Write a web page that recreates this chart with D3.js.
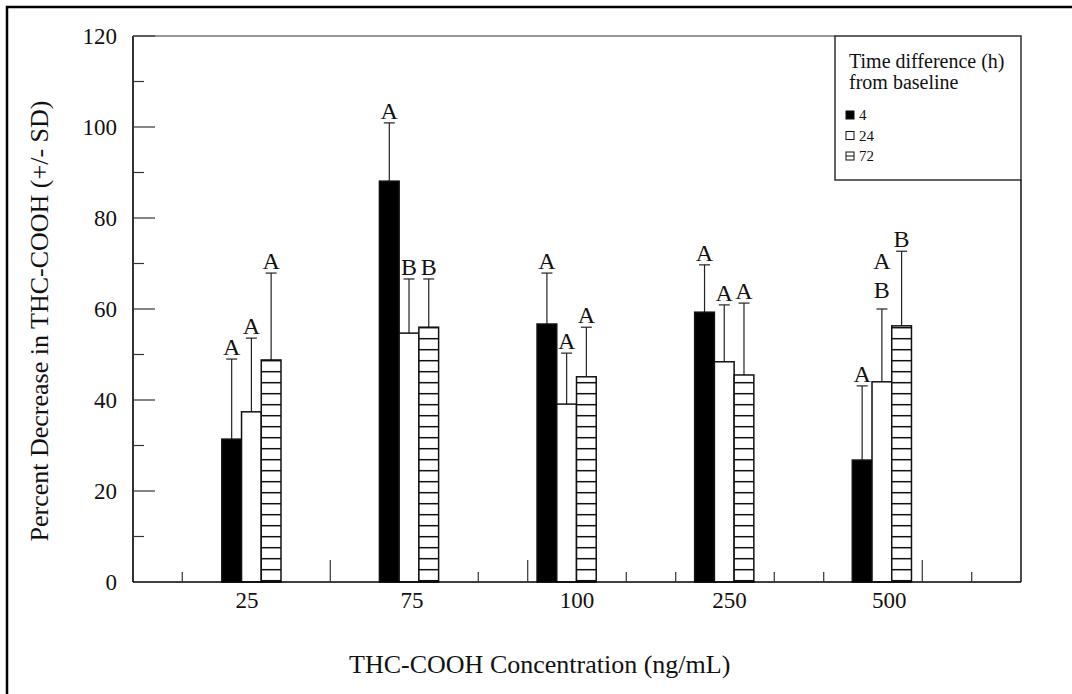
<!DOCTYPE html>
<html lang="en">
<head>
    <meta charset="UTF-8">
    <title>THC-COOH decrease</title>
    <script src="https://d3js.org/d3.v7.js"></script>
    <style>
        body { margin: 0; background: #fff; }
        svg { display: block; }
        text { font-family: "Liberation Serif", "Times New Roman", serif; fill: #111; }
    </style>
</head>
<body>
    <svg width="1072" height="694"></svg>
    <script>
        // data
        const concentrations = ["25", "75", "100", "250", "500"];
        const hours = ["4", "24", "72"];
        const meanH4 = [31.4, 88.1, 56.7, 59.3, 26.8];
        const meanH24 = [37.4, 54.7, 39.1, 48.4, 44.0];
        const meanH72 = [48.8, 56.0, 45.1, 45.5, 56.3];
        const sdH4 = [17.6, 12.8, 11.2, 10.4, 16.3];
        const sdH24 = [16.2, 11.9, 11.2, 12.5, 16.0];
        const sdH72 = [19.1, 10.6, 10.9, 15.8, 16.4];
        const lettersH4 = [["A"], ["A"], ["A"], ["A"], ["A"]];
        const lettersH24 = [["A"], ["B"], ["A"], ["A"], ["A", "B"]];
        const lettersH72 = [["A"], ["B"], ["A"], ["A"], ["B"]];
        const yTicks = [0, 20, 40, 60, 80, 100, 120];
        const yMinorTicks = [10, 30, 50, 70, 90, 110];
        // x axis runs 0..6, groups and the odd tick marks sit in those units
        const groupPos = [0.80, 1.865, 2.93, 3.995, 5.06];
        const labelPos = [0.77, 1.885, 3.0, 4.03, 5.11];
        const xTallTicks = [1.333, 2.667, 5.333];
        const xShortTicks = [0.333, 2.333, 3.333, 3.667, 4.333, 4.667, 5.667];

        const margins = { top: 36, bottom: 112, left: 133, right: 51 };
        const width = 1072, height = 694;
        const svg = d3.select("svg");

        const x = d3.scaleLinear().domain([0, 6]).range([margins.left, width - margins.right]);
        const y = d3.scaleLinear().domain([0, 120]).range([height - margins.bottom, margins.top]);
        const barW = x(0.1333) - x(0);

        const defs = svg.append("defs");
        const pat = defs.append("pattern")
            .attr("id", "hatch")
            .attr("patternUnits", "userSpaceOnUse")
            .attr("width", 8).attr("height", 11);
        pat.append("rect").attr("width", 8).attr("height", 11).attr("fill", "#fff");
        pat.append("line").attr("x1", 0).attr("x2", 8).attr("y1", 8.7).attr("y2", 8.7)
            .attr("stroke", "#111").attr("stroke-width", 1.5);

        // outer frame of the figure
        svg.append("rect")
            .attr("x", 7).attr("y", 7).attr("width", 1100).attr("height", 720)
            .attr("fill", "none").attr("stroke", "#000").attr("stroke-width", 2.5);

        const series = [
            { key: "4", mean: meanH4, sd: sdH4, letters: lettersH4, fill: "#000" },
            { key: "24", mean: meanH24, sd: sdH24, letters: lettersH24, fill: "#fff" },
            { key: "72", mean: meanH72, sd: sdH72, letters: lettersH72, fill: "url(#hatch)" }
        ];

        const rows = [];
        series.forEach((s, si) => {
            concentrations.forEach((c, ci) => {
                rows.push({
                    si: si, ci: ci, mean: s.mean[ci], sd: s.sd[ci], letters: s.letters[ci], fill: s.fill,
                    cx: x(groupPos[ci]) + (si - 1) * barW
                });
            });
        });

        // error bars (upper only)
        const eb = svg.append("g").attr("stroke", "#222").attr("stroke-width", 1.2);
        eb.selectAll("line.stem").data(rows).enter().append("line")
            .attr("x1", d => d.cx).attr("x2", d => d.cx)
            .attr("y1", d => y(d.mean)).attr("y2", d => y(d.mean + d.sd));
        eb.selectAll("line.cap").data(rows).enter().append("line")
            .attr("x1", d => d.cx - 5.5).attr("x2", d => d.cx + 5.5)
            .attr("y1", d => y(d.mean + d.sd)).attr("y2", d => y(d.mean + d.sd));

        // bars
        svg.append("g").selectAll("rect").data(rows).enter().append("rect")
            .attr("x", d => d.cx - barW / 2)
            .attr("width", barW)
            .attr("y", d => y(d.mean))
            .attr("height", d => y(0) - y(d.mean))
            .attr("fill", d => d.fill)
            .attr("stroke", "#111").attr("stroke-width", 1.5);

        // significance letters
        const lg = svg.append("g").attr("font-size", 24).attr("text-anchor", "middle");
        rows.forEach(d => {
            const n = d.letters.length;
            d.letters.forEach((l, i) => {
                lg.append("text")
                    .attr("x", d.cx)
                    .attr("y", y(d.mean + d.sd) - (n > 1 ? 11 : 4) - (n - 1 - i) * 29)
                    .text(l);
            });
        });

        // axes and frame
        const frame = svg.append("g").attr("fill", "none");
        frame.append("line").attr("x1", x(0)).attr("x2", x(0)).attr("y1", y(120)).attr("y2", y(0))
            .attr("stroke", "#000").attr("stroke-width", 1.6);
        frame.append("line").attr("x1", x(0)).attr("x2", x(6)).attr("y1", y(0)).attr("y2", y(0))
            .attr("stroke", "#000").attr("stroke-width", 1.6);
        frame.append("line").attr("x1", x(0)).attr("x2", 835).attr("y1", y(120)).attr("y2", y(120))
            .attr("stroke", "#333").attr("stroke-width", 1.2);
        frame.append("line").attr("x1", x(6)).attr("x2", x(6)).attr("y1", 180).attr("y2", y(0))
            .attr("stroke", "#000").attr("stroke-width", 1.4);

        svg.append("g").selectAll("line").data(yTicks.slice(1)).enter().append("line")
            .attr("x1", x(0)).attr("x2", x(0) + 22)
            .attr("y1", d => y(d)).attr("y2", d => y(d))
            .attr("stroke", "#333").attr("stroke-width", 1.2);
        svg.append("g").selectAll("line").data(yMinorTicks).enter().append("line")
            .attr("x1", x(0)).attr("x2", x(0) + 11)
            .attr("y1", d => y(d)).attr("y2", d => y(d))
            .attr("stroke", "#333").attr("stroke-width", 1.2);
        svg.append("g").attr("font-size", 23).attr("text-anchor", "end")
            .selectAll("text").data(yTicks).enter().append("text")
            .attr("x", x(0) - 16).attr("y", d => y(d) + 8)
            .text(d => d);

        svg.append("g").selectAll("line").data(xTallTicks).enter().append("line")
            .attr("x1", d => x(d)).attr("x2", d => x(d))
            .attr("y1", y(0)).attr("y2", y(0) - 22)
            .attr("stroke", "#333").attr("stroke-width", 1.2);
        svg.append("g").selectAll("line").data(xShortTicks).enter().append("line")
            .attr("x1", d => x(d)).attr("x2", d => x(d))
            .attr("y1", y(0)).attr("y2", y(0) - 10)
            .attr("stroke", "#333").attr("stroke-width", 1.2);
        svg.append("g").attr("font-size", 23).attr("text-anchor", "middle")
            .selectAll("text").data(concentrations).enter().append("text")
            .attr("x", (d, i) => x(labelPos[i])).attr("y", y(0) + 26)
            .text(d => d);

        // axis titles
        svg.append("text")
            .attr("x", x(0) + (x(6) - x(0)) * 0.458).attr("y", 673)
            .attr("text-anchor", "middle").attr("font-size", 26)
            .text("THC-COOH Concentration (ng/mL)");
        svg.append("text")
            .attr("transform", `translate(48, ${(y(0) + y(120)) / 2 + 12}) rotate(-90)`)
            .attr("text-anchor", "middle").attr("font-size", 26)
            .text("Percent Decrease in THC-COOH (+/- SD)");

        // legend
        const legend = svg.append("g").attr("transform", "translate(835, 36)");
        legend.append("rect").attr("width", 186).attr("height", 144)
            .attr("fill", "#fff").attr("stroke", "#222").attr("stroke-width", 1.4);
        legend.append("text").attr("x", 14).attr("y", 32).attr("font-size", 20).text("Time difference (h)");
        legend.append("text").attr("x", 14).attr("y", 53).attr("font-size", 20).text("from baseline");
        const items = legend.selectAll("g.item").data(series).enter().append("g")
            .attr("transform", (d, i) => `translate(11, ${75 + i * 20.5})`);
        items.append("rect").attr("width", 8).attr("height", 8)
            .attr("fill", d => d.fill === "#000" ? "#000" : "#fff")
            .attr("stroke", "#111").attr("stroke-width", 1);
        items.filter(d => d.key === "72").append("line")
            .attr("x1", 0).attr("x2", 8).attr("y1", 4).attr("y2", 4)
            .attr("stroke", "#111").attr("stroke-width", 1);
        items.append("text").attr("x", 13).attr("y", 9).attr("font-size", 15).text(d => d.key);
    </script>
</body>
</html>
